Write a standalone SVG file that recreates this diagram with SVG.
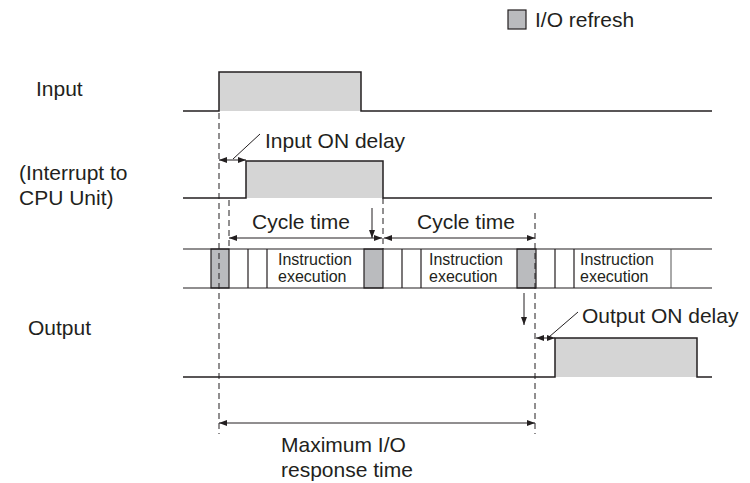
<svg xmlns="http://www.w3.org/2000/svg" width="750" height="483" viewBox="0 0 750 483">
<style>
text{font-family:"Liberation Sans",Arial,sans-serif;fill:#231f20}
.big{font-size:21px}
.small{font-size:16px}
.wave{fill:none;stroke:#231f20;stroke-width:1.5}
.pulse{fill:#d5d5d5;stroke:none}
.refresh{fill:#babbbe;stroke:#231f20;stroke-width:1.2}
.cell{stroke:#231f20;stroke-width:1.2}
.dash{stroke:#231f20;stroke-width:1;stroke-dasharray:6,4;fill:none}
.dim{stroke:#231f20;stroke-width:1;fill:none;marker-start:url(#ah);marker-end:url(#ah)}
.lead{stroke:#231f20;stroke-width:1;fill:none}
</style>
<defs>
<marker id="ah" viewBox="0 0 8 6" refX="8" refY="3" markerWidth="8" markerHeight="6" markerUnits="userSpaceOnUse" orient="auto-start-reverse">
<path d="M0,0 L8,3 L0,6 z" fill="#231f20"/>
</marker>
</defs>
<rect width="750" height="483" fill="#fff"/>

<g id="legend">
<rect x="508" y="10" width="18" height="19" class="refresh"/>
<text x="535" y="27" class="big">I/O refresh</text>
</g>

<g id="labels">
<text x="36" y="96" class="big">Input</text>
<text x="19" y="180" class="big">(Interrupt to</text>
<text x="19" y="205" class="big">CPU Unit)</text>
<text x="28" y="335" class="big">Output</text>
</g>

<g id="input-wave">
<rect x="219" y="72" width="142" height="39" class="pulse"/>
<path d="M183,111 H219 V72 H361 V111 H712" class="wave"/>
</g>

<g id="interrupt-wave">
<rect x="246" y="161" width="137" height="37" class="pulse"/>
<path d="M183,198 H246 V161 H383 V198 H712" class="wave"/>
</g>

<g id="cycle-row">
<rect x="211" y="249" width="18" height="39" class="refresh"/>
<rect x="364" y="249" width="19" height="39" class="refresh"/>
<rect x="517" y="249" width="19" height="39" class="refresh"/>
<path d="M183,249 H712 M183,288 H712" class="cell" fill="none"/>
<path d="M248,249 V288 M267,249 V288 M402,249 V288 M421,249 V288 M555,249 V288 M574,249 V288" class="cell"/>
<path d="M671,249 V288" stroke="#555" stroke-width="1"/>
<text x="278" y="265" class="small">Instruction</text>
<text x="278" y="282" class="small">execution</text>
<text x="429" y="265" class="small">Instruction</text>
<text x="429" y="282" class="small">execution</text>
<text x="580" y="265" class="small">Instruction</text>
<text x="580" y="282" class="small">execution</text>
</g>

<g id="output-wave">
<rect x="555" y="338" width="142" height="39" class="pulse"/>
<path d="M183,377 H555 V338 H697 V377 H712" class="wave"/>
</g>

<g id="connectors">
<path d="M219,113 V434" class="dash"/>
<path d="M229,200 V249" class="dash"/>
<path d="M383,198 V249" class="dash"/>
<path d="M535,213 V434" class="dash"/>

<path d="M219,160 H246" class="dim"/>
<path d="M233,159 L260,134" class="lead"/>
<text x="265" y="148" class="big">Input ON delay</text>

<path d="M229,238 H382" class="dim"/>
<text x="252" y="229" class="big">Cycle time</text>
<path d="M372,208 V238" class="lead" marker-end="url(#ah)"/>

<path d="M384,238 H535" class="dim"/>
<text x="417" y="229" class="big">Cycle time</text>

<path d="M524,293 V325" class="lead" marker-end="url(#ah)"/>

<path d="M536,338 H555" class="dim"/>
<path d="M549,337 L578,312" class="lead"/>
<text x="582" y="323" class="big">Output ON delay</text>

<path d="M219,423 H535" class="dim"/>
<text x="281" y="452" class="big">Maximum I/O</text>
<text x="281" y="477" class="big">response time</text>
</g>
</svg>
